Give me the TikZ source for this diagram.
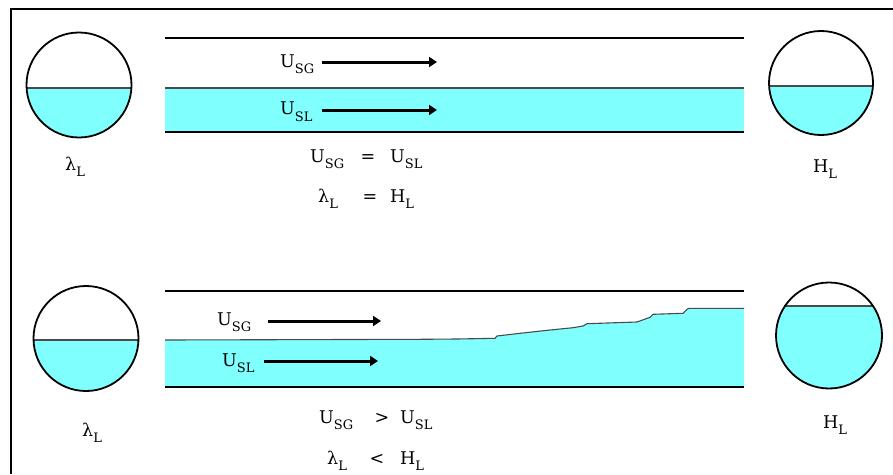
\documentclass[tikz,border=0pt]{standalone}
\usepackage{fontspec}
\setmainfont{DejaVu Serif}
\usetikzlibrary{arrows.meta}
\definecolor{liquid}{HTML}{80FFFF}
\definecolor{surf}{HTML}{4A4A4A}

% symbol with a lowered subscript
\newcommand\subq[2]{#1\raisebox{-6.8pt}{\fontsize{13}{13}\selectfont #2}}

\tikzset{
  wall/.style={line width=2pt},
  level/.style={surf, line width=1.1pt},
  outline/.style={line width=1.8pt},
  flow/.style={line width=3pt, -{Triangle[length=8pt,width=10pt]}},
  lbl/.style={anchor=base west, inner sep=0pt, font=\fontsize{17.5}{20}\selectfont},
  rel/.style={anchor=base, inner sep=0pt, font=\fontsize{17.5}{20}\selectfont},
}

% tank cross-section: centre x, centre y, radius, liquid level y
\newcommand\tank[4]{%
  \begin{scope}
    \clip (#1,#2) circle[radius=#3pt];
    \fill[liquid] (#1-#3,#4) rectangle (#1+#3,#2+#3);
    \draw[level] (#1-#3,#4) -- (#1+#3,#4);
  \end{scope}
  \draw[outline] (#1,#2) circle[radius=#3pt];
}

\begin{document}
\begin{tikzpicture}[x=1pt,y=-1pt]
\useasboundingbox (0,0) rectangle (893,474);
\fill[white] (0,0) rectangle (893,474);

% frame
\draw[wall] (11,474) -- (11,9) -- (893,9);

% ---------- upper case: no slip ----------
\tank{79}{85}{52.5}{88}
\tank{821}{83}{52}{86}

\fill[liquid] (165,88) rectangle (744,132);
\draw[level] (165,88) -- (744,88);
\draw[wall] (165,38) -- (744,38);
\draw[wall] (165,132) -- (744,132);

\node[lbl] (usg1) at (280,67) {\subq{U}{SG}};
\node[lbl] (usl1) at (280,114.5) {\subq{U}{SL}};
\coordinate (a1s) at (322,62);  \coordinate (a1e) at (437,62);
\coordinate (b1s) at (322,110); \coordinate (b1e) at (437,110);
\draw[flow] (a1s) -- (a1e);
\draw[flow] (b1s) -- (b1e);

\node[lbl] (lamL1) at (65,170) {\subq{λ}{L}};
\node[lbl] (hL1) at (813,172) {\subq{H}{L}};

\node[lbl] (e1a) at (310,162) {\subq{U}{SG}};
\node[rel] (e1b) at (368,162) {=};
\node[lbl] (e1c) at (390,162) {\subq{U}{SL}};
\node[lbl] (e2a) at (318,202) {\subq{λ}{L}};
\node[rel] (e2b) at (370,202) {=};
\node[lbl] (e2c) at (390,202) {\subq{H}{L}};

% ---------- lower case: liquid holdup ----------
\tank{86}{338.5}{52.5}{340}
\tank{829}{335.5}{53}{306}

\fill[liquid] (165,340) -- (420,339.3) -- (457,339) -- (495,338.3) -- (497,336)
  -- (520,333.3) -- (550,330) -- (573,327.7) -- (583,326) -- (587,323.7)
  -- (637,322) -- (650,317.3) -- (653,314.3) -- (683,313.3) -- (687,309.3)
  -- (689,308.3) -- (744,308.3) -- (744,387) -- (165,387) -- cycle;
\draw[level] (165,340) -- (420,339.3) -- (457,339) -- (495,338.3) -- (497,336)
  -- (520,333.3) -- (550,330) -- (573,327.7) -- (583,326) -- (587,323.7)
  -- (637,322) -- (650,317.3) -- (653,314.3) -- (683,313.3) -- (687,309.3)
  -- (689,308.3) -- (744,308.3);
\draw[wall] (165,291) -- (744,291);
\draw[wall] (165,387) -- (744,387);

\node[lbl] (usg2) at (217,325) {\subq{U}{SG}};
\node[lbl] (usl2) at (222,366) {\subq{U}{SL}};
\coordinate (a2s) at (268,321); \coordinate (a2e) at (381,321);
\coordinate (b2s) at (264,361); \coordinate (b2e) at (378,361);
\draw[flow] (a2s) -- (a2e);
\draw[flow] (b2s) -- (b2e);

\node[lbl] (lamL2) at (82,436) {\subq{λ}{L}};
\node[lbl] (hL2) at (823,428) {\subq{H}{L}};

\node[lbl] (e3a) at (319,423) {\subq{U}{SG}};
\node[rel] (e3b) at (382,423) {>};
\node[lbl] (e3c) at (400,423) {\subq{U}{SL}};
\node[lbl] (e4a) at (327,464) {\subq{λ}{L}};
\node[rel] (e4b) at (377,464) {<};
\node[lbl] (e4c) at (400,464) {\subq{H}{L}};
\end{tikzpicture}
\end{document}
